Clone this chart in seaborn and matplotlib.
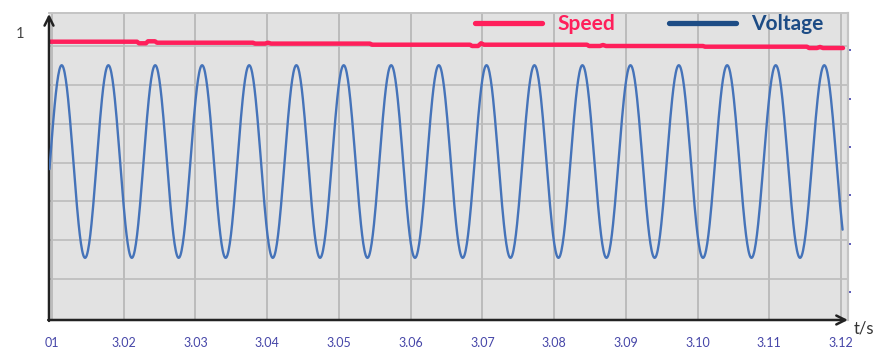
import numpy as np
import pandas as pd
import matplotlib
matplotlib.use("Agg")
import matplotlib.pyplot as plt
import seaborn as sns
from matplotlib.lines import Line2D

# ---------------- data ----------------
tick_times = [3.01, 3.02, 3.03, 3.04, 3.05, 3.06, 3.07, 3.08, 3.09, 3.10, 3.11, 3.12]
tick_labels = ["01", "3.02", "3.03", "3.04", "3.05", "3.06", "3.07", "3.08",
               "3.09", "3.10", "3.11", "3.12"]

speed_t = [3.00958, 3.02185, 3.02213, 3.02310, 3.02338, 3.02436, 3.02464,
           3.03802, 3.03830, 3.03970, 3.04012, 3.04054, 3.05433, 3.05461,
           3.06828, 3.06856, 3.06940, 3.06982, 3.07024, 3.08459, 3.08487,
           3.08640, 3.08682, 3.08724, 3.10076, 3.10104, 3.11526, 3.11554,
           3.11665, 3.11707, 3.11749, 3.12028]
speed_pu = [0.9663, 0.9663, 0.9608, 0.9608, 0.9677, 0.9677, 0.9628,
            0.9628, 0.9597, 0.9597, 0.9628, 0.9597, 0.9597, 0.9559,
            0.9559, 0.9514, 0.9514, 0.9608, 0.9559, 0.9559, 0.9514,
            0.9514, 0.9549, 0.9514, 0.9514, 0.9490, 0.9490, 0.9444,
            0.9444, 0.9480, 0.9444, 0.9444]

voltage_peak_t = [3.01135, 3.01786, 3.02439, 3.03093, 3.03749, 3.04407,
                  3.05067, 3.05729, 3.06393, 3.07058, 3.07726, 3.08395,
                  3.09065, 3.09739, 3.10413, 3.11090, 3.11767]
voltage_trough_t = [3.00810, 3.01461, 3.02113, 3.02766, 3.03421, 3.04078,
                    3.04737, 3.05398, 3.06061, 3.06726, 3.07392, 3.08061,
                    3.08730, 3.09402, 3.10076, 3.10752, 3.11429, 3.12107]
voltage_peak = 1.69
voltage_trough = -2.29
voltage_ticks = [-3, -2, -1, 0, 1, 2]

t_start, t_end = 3.00958, 3.12030

# ---------------- voltage curve through the read extrema ----------------
ext = sorted([(t, voltage_peak) for t in voltage_peak_t] +
             [(t, voltage_trough) for t in voltage_trough_t])
vt, vv = [], []
s = np.linspace(0, 1, 40, endpoint=False)
for (t0, v0), (t1, v1) in zip(ext[:-1], ext[1:]):
    vt.extend(t0 + s * (t1 - t0))
    vv.extend(v0 + (v1 - v0) * (1 - np.cos(np.pi * s)) / 2)
vt = np.array(vt); vv = np.array(vv)
mask = (vt >= t_start) & (vt <= t_end)
volt_df = pd.DataFrame({"t": vt[mask], "v": vv[mask]})
speed_df = pd.DataFrame({"t": speed_t, "speed": speed_pu})

# ---------------- figure ----------------
sns.set_style("white")
plt.rcParams['font.family'] = ['Lato', 'DejaVu Sans']

W, H = 882, 349
fig = plt.figure(figsize=(W / 100, H / 100), dpi=100)
ax = fig.add_axes([49 / W, 1 - 320 / H, (848 - 49) / W, (320 - 13) / H])
ax.set_facecolor('#e2e2e2')
ax2 = ax.twinx()

sns.lineplot(data=speed_df, x="t", y="speed", ax=ax, color='#ff1f5b',
             lw=3.2, sort=False, estimator=None, zorder=3)
sns.lineplot(data=volt_df, x="t", y="v", ax=ax2, color='#4573b9',
             lw=1.7, sort=False, estimator=None, zorder=3)

ax.set_xlim(3.009582, 3.120976)
ax.set_ylim(0, 307 / 288)
ax2.set_ylim(-3.574, 2.769)
ax.set_xlabel(""); ax.set_ylabel(""); ax2.set_ylabel("")

# grid
ax.grid(False)
ax.set_axisbelow(True)
ax.set_xticks(tick_times)
ax.set_xticklabels(tick_labels)
ax.set_yticks([1.0])
ax.set_yticklabels(["1"])
ax.set_yticks(np.arange(0.1424, 1.0, 0.1347), minor=True)
ax.grid(which='major', axis='x', color='#b5b5b5', lw=1.2)
ax.grid(which='minor', axis='y', color='#bcbcbc', lw=1.2)
ax2.grid(False)

ax.tick_params(axis='y', which='both', length=0, pad=18, labelsize=10.5,
               labelcolor='#444444')
ax.tick_params(axis='x', length=3.2, width=1.6, color='#5a5ab8',
               labelcolor='#4646a8', labelsize=9, pad=1.2, direction='out')
ax.spines['bottom'].set_position(('outward', 8))

ax2.set_yticks(voltage_ticks)
ax2.set_yticklabels([])
ax2.tick_params(axis='y', length=2.5, width=1.4, color='#5a5ab8',
                direction='out', pad=0)

for a in (ax, ax2):
    a.spines['left'].set_color('none')
    a.spines['bottom'].set_color('none')
    a.spines['top'].set_color('#c4c4c4')
    a.spines['right'].set_color('#c4c4c4')
    a.spines['top'].set_linewidth(1.2)
    a.spines['right'].set_linewidth(1.5)

# axis arrows
ax.annotate('', xy=(0, 0.997), xytext=(0, -0.003), xycoords='axes fraction',
            arrowprops=dict(arrowstyle='->', lw=1.8, color='#222222',
                            mutation_scale=16, shrinkA=0, shrinkB=0),
            annotation_clip=False, zorder=5)
ax.annotate('', xy=(1.0, 0), xytext=(-0.001, 0), xycoords='axes fraction',
            arrowprops=dict(arrowstyle='->', lw=1.8, color='#222222',
                            mutation_scale=16, shrinkA=0, shrinkB=0),
            annotation_clip=False, zorder=5)

fig.text(854 / W, 1 - 329 / H, 't/s', fontsize=12, color='#333333',
         ha='left', va='center')

# legend
handles = [Line2D([0], [0], color='#ff1f5b', lw=3.8),
           Line2D([0], [0], color='#1d4c85', lw=3.8)]
leg = ax2.legend(handles, ['Speed', 'Voltage'], ncol=2, frameon=False,
                 loc='center right', bbox_to_anchor=(834 / W, 1 - 24 / H),
                 bbox_transform=fig.transFigure, borderpad=0,
                 handlelength=3.22, handletextpad=0.72, columnspacing=2.6,
                 prop={'size': 15, 'weight': 'bold'})
leg.get_texts()[0].set_color('#ff1f5b')
leg.get_texts()[1].set_color('#1d4c85')

fig.savefig('out.png', dpi=100)
